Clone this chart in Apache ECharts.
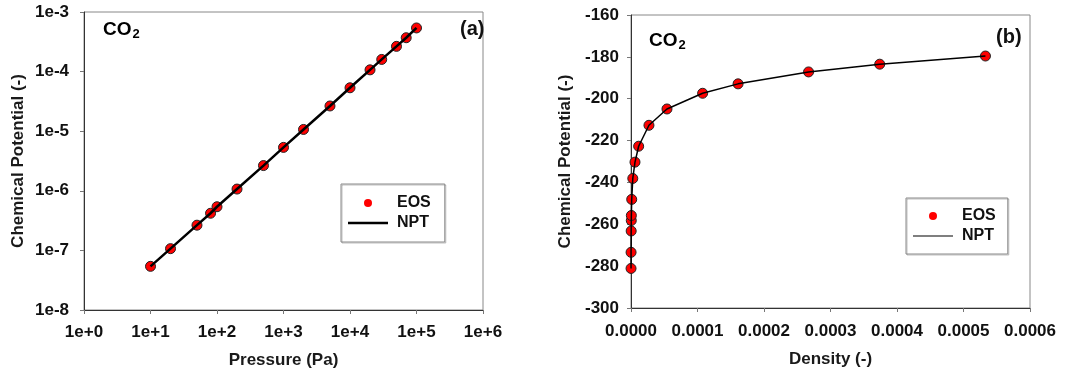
<!DOCTYPE html>
<html>
<head>
<meta charset="utf-8">
<script src="https://cdn.jsdelivr.net/npm/echarts@6/dist/echarts.min.js"></script>
<style>
  html, body { margin: 0; padding: 0; background: #fff; }
  #chart { width: 1071px; height: 379px; }
</style>
</head>
<body>
<div id="chart"></div>
<script>
// Panel (a): chemical potential against pressure (log-log)
const pressure = [10, 20, 50, 80, 100, 200, 500, 1000, 2000, 5000, 10000, 20000, 30000, 50000, 70000, 100000];
const potentialA = [5.4e-8, 1.07e-7, 2.65e-7, 4.2e-7, 5.4e-7, 1.07e-6, 2.65e-6, 5.35e-6, 1.07e-5, 2.65e-5,
                    5.35e-5, 1.07e-4, 1.6e-4, 2.65e-4, 3.7e-4, 5.4e-4];
const pressureTicks = ['1e+0', '1e+1', '1e+2', '1e+3', '1e+4', '1e+5', '1e+6'];
const potentialTicks = ['1e-8', '1e-7', '1e-6', '1e-5', '1e-4', '1e-3'];

// Panel (b): chemical potential against density
const density = [5.3e-8, 1.07e-7, 2.7e-7, 4.3e-7, 5.3e-7, 1.07e-6, 2.7e-6, 6.0e-6, 1.15e-5, 2.7e-5,
                 5.41e-5, 1.077e-4, 1.61e-4, 2.67e-4, 3.74e-4, 5.33e-4];
const potentialB = [-281.1, -273.4, -263.2, -258.2, -255.8, -248.1, -238.1, -230.3, -222.7, -212.7,
                    -204.9, -197.4, -192.9, -187.2, -183.5, -179.6];

const FONT = '"Liberation Sans", Arial, sans-serif';
const pairs = (xs, ys) => xs.map((x, i) => [x, ys[i]]);

const axisCommon = {
  axisLine: { show: true, onZero: false, lineStyle: { color: '#333', width: 1 } },
  axisTick: { show: true, inside: false, length: 4, lineStyle: { color: '#777' } },
  minorTick: { show: false },
  splitLine: { show: false },
  nameLocation: 'middle',
  nameTextStyle: { fontFamily: FONT, fontWeight: 'bold', fontSize: 17, color: '#1a1a1a' },
  axisLabel: { fontFamily: FONT, fontWeight: 'bold', fontSize: 17, color: '#111' }
};

const dotStyle = { color: '#ff0000', borderColor: '#222', borderWidth: 1, opacity: 1 };

const chart = echarts.init(document.getElementById('chart'), null, { renderer: 'canvas' });

const label = (text, left, top) => ({
  type: 'text', left, top,
  style: { text, fontFamily: FONT, fontWeight: 'bold', fontSize: 20, fill: '#111' }
});
const co2 = (left, top) => ({
  type: 'text', left, top,
  style: {
    text: '{m|CO}{s|2}', fontFamily: FONT,
    rich: {
      m: { fontFamily: FONT, fontWeight: 'bold', fontSize: 19, color: '#111' },
      s: { fontFamily: FONT, fontWeight: 'bold', fontSize: 13, color: '#111', padding: [10, 0, 0, 1] }
    }
  }
});

chart.setOption({
  animation: false,
  backgroundColor: '#fff',
  grid: [
    { left: 84, top: 12, width: 399, height: 298, show: true, borderColor: '#888', borderWidth: 1 },
    { left: 631, top: 15, width: 399, height: 293, show: true, borderColor: '#888', borderWidth: 1 }
  ],
  xAxis: [
    Object.assign({}, axisCommon, {
      gridIndex: 0, type: 'log', logBase: 10, min: 1, max: 1e6, splitNumber: 6,
      name: 'Pressure (Pa)', nameGap: 42,
      axisLabel: Object.assign({}, axisCommon.axisLabel, {
        margin: 14,
        formatter: v => pressureTicks[Math.round(Math.log10(v))]
      })
    }),
    Object.assign({}, axisCommon, {
      gridIndex: 1, type: 'value', min: 0, max: 0.0006, interval: 0.0001,
      name: 'Density (-)', nameGap: 43,
      axisLabel: Object.assign({}, axisCommon.axisLabel, {
        margin: 15,
        formatter: v => v.toFixed(4)
      })
    })
  ],
  yAxis: [
    Object.assign({}, axisCommon, {
      gridIndex: 0, type: 'log', logBase: 10, min: 1e-8, max: 1e-3, splitNumber: 5,
      name: 'Chemical Potential (-)', nameGap: 57,
      axisLabel: Object.assign({}, axisCommon.axisLabel, {
        margin: 15,
        formatter: v => potentialTicks[Math.round(Math.log10(v)) + 8]
      })
    }),
    Object.assign({}, axisCommon, {
      gridIndex: 1, type: 'value', min: -300, max: -160, interval: 20,
      name: 'Chemical Potential (-)', nameGap: 57,
      axisLabel: Object.assign({}, axisCommon.axisLabel, { margin: 12 })
    })
  ],
  legend: [
    {
      left: 341, top: 184, orient: 'vertical',
      itemWidth: 40, itemHeight: 8, itemGap: 2,
      padding: [10, 14, 10, 7],
      borderColor: '#888', borderWidth: 1,
      shadowColor: 'rgba(0,0,0,0.25)', shadowOffsetX: 1, shadowOffsetY: 1,
      textStyle: { fontFamily: FONT, fontWeight: 'bold', fontSize: 16, color: '#111', lineHeight: 18, padding: [0, 0, 0, 4] },
      data: [
        { name: 'EOS', icon: 'circle', itemStyle: { color: '#ff0000', borderWidth: 0, opacity: 1 } },
        { name: 'NPT', icon: 'path://M0,0 H40 V2.5 H0 Z', itemStyle: { color: '#000', borderWidth: 0 } }
      ],
      selectedMode: false
    },
    {
      left: 906, top: 198, orient: 'vertical',
      itemWidth: 40, itemHeight: 8, itemGap: 2,
      padding: [9, 12, 9, 7],
      borderColor: '#888', borderWidth: 1,
      shadowColor: 'rgba(0,0,0,0.25)', shadowOffsetX: 1, shadowOffsetY: 1,
      textStyle: { fontFamily: FONT, fontWeight: 'bold', fontSize: 16, color: '#111', lineHeight: 18, padding: [0, 0, 0, 4] },
      data: [
        { name: 'EOS', icon: 'circle', itemStyle: { color: '#ff0000', borderWidth: 0, opacity: 1 } },
        { name: 'NPT', icon: 'path://M0,0 H40 V1.2 H0 Z', itemStyle: { color: '#000', borderWidth: 0 } }
      ],
      selectedMode: false
    }
  ],
  graphic: [
    co2(103, 20),
    label('(a)', 460, 19),
    co2(649, 31),
    label('(b)', 996, 27)
  ],
  series: [
    {
      name: 'EOS', type: 'scatter', xAxisIndex: 0, yAxisIndex: 0,
      data: pairs(pressure, potentialA), symbol: 'circle', symbolSize: 10,
      itemStyle: dotStyle, z: 2
    },
    {
      name: 'NPT', type: 'line', xAxisIndex: 0, yAxisIndex: 0,
      data: pairs(pressure, potentialA), symbol: 'none', showSymbol: false,
      lineStyle: { color: '#000', width: 2.5 }, itemStyle: { color: '#000' }, z: 3
    },
    {
      name: 'EOS', type: 'scatter', xAxisIndex: 1, yAxisIndex: 1,
      data: pairs(density, potentialB), symbol: 'circle', symbolSize: 10,
      itemStyle: dotStyle, z: 2
    },
    {
      name: 'NPT', type: 'line', xAxisIndex: 1, yAxisIndex: 1,
      data: pairs(density, potentialB), symbol: 'none', showSymbol: false,
      lineStyle: { color: '#000', width: 1.5 }, itemStyle: { color: '#000' }, z: 3
    }
  ]
});
</script>
</body>
</html>
